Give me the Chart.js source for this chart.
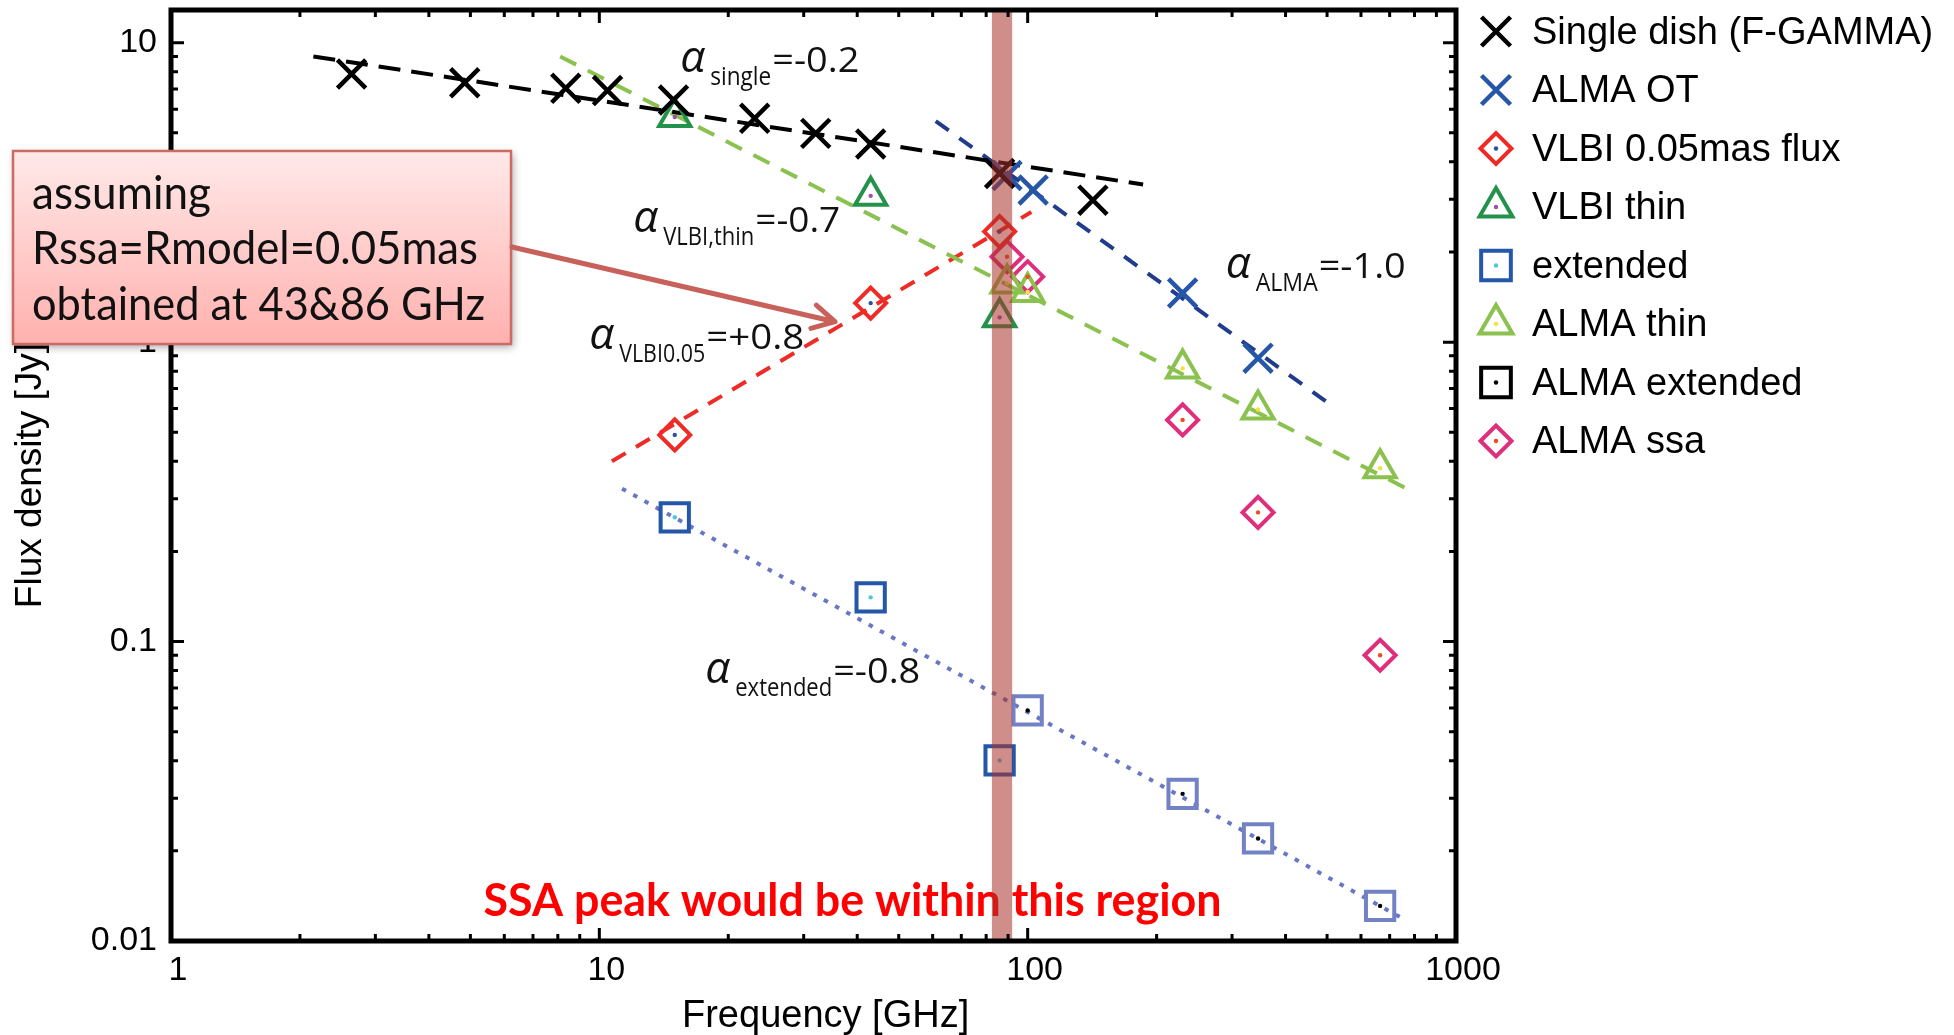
<!DOCTYPE html>
<html>
<head>
<meta charset="utf-8">
<title>Flux density spectrum</title>
<script src="https://cdn.jsdelivr.net/npm/chart.js@4.4.1/dist/chart.umd.min.js"></script>
<style>
  body { margin: 0; background: #fff; }
  canvas { display: block; }
</style>
</head>
<body>
<canvas id="sed" width="1954" height="1035"></canvas>
<script>
// frequency in GHz, flux density in Jy
const singleFreq = [2.64, 4.85, 8.35, 10.45, 14.9, 23.05, 32, 43, 86, 142];
const singleFlux = [7.86, 7.35, 7.04, 6.92, 6.44, 5.59, 4.98, 4.59, 3.66, 2.98];
const almaOtFreq = [89.5, 103, 230, 345];
const almaOtFlux = [3.6, 3.22, 1.46, 0.884];
const vlbiFreq = [15, 43, 86];
const vlbi005Flux = [0.49, 1.35, 2.34];
const vlbiThinFlux = [5.65, 3.08, 1.21];
const extendedFlux = [0.26, 0.1405, 0.0401];
const almaFreq = [89.5, 100, 230, 345, 665];
const almaThinFlux = [1.57, 1.47, 0.817, 0.596, 0.379];
const almaSsaFlux = [1.93, 1.654, 0.55, 0.27, 0.09];
const almaExtFreq = [100, 230, 345, 665];
const almaExtFlux = [0.0589, 0.031, 0.022, 0.0131];

// power-law fits, [freq, flux] at both ends
const fitSingle = [[2.15, 9.0], [186, 3.36]];
const fitThin = [[8.1, 9.0], [768, 0.324]];
const fitVlbi005 = [[10.7, 0.40], [102, 2.72]];
const fitAlma = [[61, 5.47], [497, 0.634]];
const fitExtended = [[11.3, 0.324], [758, 0.0118]];

const ssaBand = [82.5, 92];

const legendLabels = ['Single dish (F-GAMMA)', 'ALMA OT', 'VLBI 0.05mas flux', 'VLBI thin',
  'extended', 'ALMA thin', 'ALMA extended', 'ALMA ssa'];
const xTickLabels = ['1', '10', '100', '1000'];
const yTickLabels = ['0.01', '0.1', '1', '10'];
const slopeTexts = [['single', '=-0.2'], ['VLBI,thin', '=-0.7'], ['ALMA', '=-1.0'],
  ['VLBI0.05', '=+0.8'], ['extended', '=-0.8']];
const calloutLines = ['assuming', 'Rssa=Rmodel=0.05mas', 'obtained at 43&86 GHz'];
const regionNote = 'SSA peak would be within this region';

// where the slope labels sit (data coords of the alpha) and how wide each part is
const slopePlacement = [
  {at: [15.45, 7.98], subW: 61, tailW: 87},
  {at: [12.0, 2.333], subW: 91, tailW: 85},
  {at: [290, 1.638], subW: 62, tailW: 87},
  {at: [9.47, 0.949], subW: 86, tailW: 98},
  {at: [17.67, 0.0729], subW: 97, tailW: 87}
];

const AXIS_FONT = '"Liberation Sans", Arial, sans-serif';

const pairs = (xs, ys) => xs.map((v, i) => ({x: v, y: ys[i]}));

function logSteps(lo, hi) {
  const out = [];
  for (let d = lo; d < hi * 0.999; d *= 10) {
    for (let m = 1; m < 10; m++) out.push(+(m * d).toPrecision(3));
  }
  out.push(hi);
  return out;
}

const labelFor = (labels, v) => labels.find(l => Math.abs(Number(l) - v) < 1e-6 * v) || '';

// fixed axis box, no label overhang padding
function pinBox(s, size) {
  if (s.isHorizontal()) s.height = size; else s.width = size;
  s.paddingTop = s.paddingBottom = s.paddingLeft = s.paddingRight = 0;
}

function marker(label, data, style, radius, color, extra) {
  return Object.assign({
    label, data, showLine: false,
    pointStyle: style, pointRadius: radius,
    pointBorderWidth: 4, pointBorderColor: color,
    pointBackgroundColor: 'rgba(0,0,0,0)',
    legendColor: color, legendRadius: radius
  }, extra || {});
}

function fitLine(ends, color, dash, width) {
  return {
    data: ends.map(([x, y]) => ({x, y})), showLine: true, isFit: true,
    borderColor: color, borderWidth: width || 4, borderDash: dash,
    borderCapStyle: 'butt', pointRadius: 0, fill: false
  };
}

const markerSets = [
  marker(legendLabels[0], pairs(singleFreq, singleFlux), 'crossRot', 20, '#000', {pointBorderWidth: 4.5, legendRadius: 20.5}),
  marker(legendLabels[1], pairs(almaOtFreq, almaOtFlux), 'crossRot', 20, '#2656a8', {pointBorderWidth: 4.5, legendRadius: 20.5}),
  marker(legendLabels[2], pairs(vlbiFreq, vlbi005Flux), 'rectRot', 15.5, '#ee2b26', {dotColor: '#2a4fa0'}),
  marker(legendLabels[3], pairs(vlbiFreq, vlbiThinFlux), 'triangle', 18, '#24924b', {dotColor: '#a04fa8', legendRadius: 19}),
  marker(legendLabels[4], pairs(vlbiFreq, extendedFlux), 'rect', 20, '#2457a8', {dotColor: '#50c8d8', legendRadius: 21}),
  marker(legendLabels[5], pairs(almaFreq, almaThinFlux), 'triangle', 18, '#8bc14f', {dotColor: '#f2e53a', legendRadius: 19}),
  marker(legendLabels[6], pairs(almaExtFreq, almaExtFlux), 'rect', 20, '#7282c4', {dotColor: '#000', legendColor: '#000', legendRadius: 21}),
  marker(legendLabels[7], pairs(almaFreq, almaSsaFlux), 'rectRot', 15.5, '#df2f7c', {dotColor: '#f04a22'})
];

const fitSets = [
  fitLine(fitSingle, '#000', [22, 11]),
  fitLine(fitThin, '#8bc14f', [18, 13]),
  fitLine(fitVlbi005, '#ee2b26', [16, 12]),
  fitLine(fitAlma, '#203c8a', [16, 13]),
  fitLine(fitExtended, '#6777c4', [4.5, 8.3])
];

function fitText(ctx, text, x, y, font, width) {
  ctx.font = font;
  const w = ctx.measureText(text).width;
  ctx.save();
  ctx.translate(x, y);
  ctx.scale(width / w, 1);
  ctx.fillText(text, 0, 0);
  ctx.restore();
}

function drawArrow(ctx, x0, y0, x1, y1) {
  const ang = Math.atan2(y1 - y0, x1 - x0);
  ctx.beginPath();
  ctx.moveTo(x0, y0);
  ctx.lineTo(x1, y1);
  for (const s of [-1, 1]) {
    ctx.moveTo(x1, y1);
    ctx.lineTo(x1 - 25 * Math.cos(ang + s * 0.5), y1 - 25 * Math.sin(ang + s * 0.5));
  }
  ctx.stroke();
}

const sedDecor = {
  id: 'sedDecor',
  afterDatasetsDraw(chart) {
    const {ctx, chartArea: a, scales: {x}} = chart;
    ctx.save();
    // little centre dots inside the open markers
    chart.data.datasets.forEach((ds, i) => {
      if (!ds.dotColor) return;
      ctx.fillStyle = ds.dotColor;
      chart.getDatasetMeta(i).data.forEach(pt => {
        ctx.beginPath();
        ctx.arc(pt.x, pt.y, 2.2, 0, Math.PI * 2);
        ctx.fill();
      });
    });
    // red note under the band
    ctx.fillStyle = '#ff0000';
    ctx.textAlign = 'left';
    ctx.textBaseline = 'alphabetic';
    fitText(ctx, regionNote, 483.5, 916, 'bold 46px Lato', 738);
    // SSA peak band
    const x0 = x.getPixelForValue(ssaBand[0]);
    const x1 = x.getPixelForValue(ssaBand[1]);
    ctx.fillStyle = 'rgba(170, 50, 42, 0.55)';
    ctx.fillRect(x0, a.top, x1 - x0, a.bottom - a.top);
    ctx.restore();
  },
  afterDraw(chart) {
    const {ctx, chartArea: a, scales: {x, y}} = chart;
    ctx.save();

    // inward ticks on all four sides
    ctx.strokeStyle = '#000';
    ctx.lineWidth = 3;
    ctx.beginPath();
    x.ticks.forEach(t => {
      const px = x.getPixelForValue(t.value);
      const len = labelFor(xTickLabels, t.value) ? 13 : 7;
      ctx.moveTo(px, a.bottom); ctx.lineTo(px, a.bottom - len);
      ctx.moveTo(px, a.top); ctx.lineTo(px, a.top + len);
    });
    y.ticks.forEach(t => {
      const py = y.getPixelForValue(t.value);
      const len = labelFor(yTickLabels, t.value) ? 13 : 7;
      ctx.moveTo(a.left, py); ctx.lineTo(a.left + len, py);
      ctx.moveTo(a.right, py); ctx.lineTo(a.right - len, py);
    });
    ctx.stroke();
    ctx.lineWidth = 5;
    ctx.strokeRect(a.left, a.top, a.right - a.left, a.bottom - a.top);

    // x axis title
    ctx.fillStyle = '#000';
    ctx.font = '38px ' + AXIS_FONT;
    ctx.textAlign = 'center';
    ctx.textBaseline = 'middle';
    ctx.fillText('Frequency [GHz]', 825.6, 1016.5);

    // spectral index labels
    ctx.textAlign = 'left';
    ctx.textBaseline = 'alphabetic';
    ctx.fillStyle = '#111';
    slopeTexts.forEach(([sub, tail], i) => {
      const p = slopePlacement[i];
      const px = x.getPixelForValue(p.at[0]);
      const py = y.getPixelForValue(p.at[1]);
      fitText(ctx, '\u03b1', px, py, 'italic 44px "Open Sans"', 25);
      fitText(ctx, sub, px + 30, py + 13, '26px "Open Sans"', p.subW);
      fitText(ctx, tail, px + 31 + p.subW, py, '35px "Open Sans"', p.tailW);
    });

    // callout box
    ctx.save();
    ctx.shadowColor = 'rgba(0, 0, 0, 0.35)';
    ctx.shadowBlur = 8;
    ctx.shadowOffsetX = 2;
    ctx.shadowOffsetY = 3;
    const g = ctx.createLinearGradient(0, 151, 0, 344);
    g.addColorStop(0, '#ffe9e9');
    g.addColorStop(1, '#ffb1ae');
    ctx.fillStyle = g;
    ctx.fillRect(13, 151, 498, 193);
    ctx.restore();
    ctx.strokeStyle = '#cc6a64';
    ctx.lineWidth = 2.5;
    ctx.strokeRect(13, 151, 498, 193);
    ctx.fillStyle = '#111';
    const lineY = [209, 264, 320];
    const lineW = [179, 446, 453];
    calloutLines.forEach((t, i) => fitText(ctx, t, 32, lineY[i], '46px Lato', lineW[i]));

    ctx.strokeStyle = '#c8615a';
    ctx.lineWidth = 5;
    ctx.lineCap = 'round';
    ctx.lineJoin = 'round';
    drawArrow(ctx, 512, 247, 835, 321.7);

    // legend
    ctx.lineCap = 'butt';
    ctx.lineJoin = 'miter';
    ctx.font = '38px ' + AXIS_FONT;
    chart.data.datasets.forEach(ds => {
      if (ds.isFit) return;
      const i = legendLabels.indexOf(ds.label);
      const my = 31.5 + 58.5 * i;
      ctx.strokeStyle = ds.legendColor;
      ctx.fillStyle = 'rgba(0,0,0,0)';
      ctx.lineWidth = ds.pointBorderWidth;
      Chart.helpers.drawPoint(ctx, {pointStyle: ds.pointStyle, radius: ds.legendRadius, borderWidth: ds.pointBorderWidth, rotation: 0}, 1496, my);
      if (ds.dotColor) {
        ctx.fillStyle = ds.dotColor;
        ctx.beginPath();
        ctx.arc(1496, my, 2.2, 0, Math.PI * 2);
        ctx.fill();
      }
      ctx.fillStyle = '#000';
      ctx.fillText(ds.label, 1532, my + 12);
    });
    ctx.restore();
  }
};

new Chart(document.getElementById('sed'), {
  type: 'scatter',
  data: {datasets: markerSets.concat(fitSets)},
  options: {
    responsive: false,
    animation: false,
    events: [],
    layout: {autoPadding: false, padding: {left: 0, top: 10, right: 498, bottom: 0}},
    plugins: {legend: {display: false}, tooltip: {enabled: false}},
    scales: {
      x: {
        type: 'logarithmic', min: 1, max: 1000,
        grid: {display: false, drawTicks: false},
        border: {display: false},
        afterBuildTicks: s => { s.ticks = logSteps(1, 1000).map(v => ({value: v})); },
        afterFit: s => pinBox(s, 94),
        ticks: {
          autoSkip: false, maxRotation: 0, padding: 9, labelOffset: 7, color: '#000',
          font: {family: AXIS_FONT, size: 34},
          callback: v => labelFor(xTickLabels, v)
        }
      },
      y: {
        type: 'logarithmic', min: 0.01, max: 12.86,
        grid: {display: false, drawTicks: false},
        border: {display: false},
        afterBuildTicks: s => { s.ticks = logSteps(0.01, 10).map(v => ({value: v})); },
        afterFit: s => pinBox(s, 171),
        ticks: {
          autoSkip: false, padding: 14, color: '#000',
          font: {family: AXIS_FONT, size: 34},
          callback: v => labelFor(yTickLabels, v)
        },
        title: {
          display: true, text: 'Flux density [Jy]', color: '#000',
          font: {family: AXIS_FONT, size: 37, lineHeight: 1},
          padding: {top: 12, bottom: 0}
        }
      }
    }
  },
  plugins: [sedDecor]
});
</script>
</body>
</html>
